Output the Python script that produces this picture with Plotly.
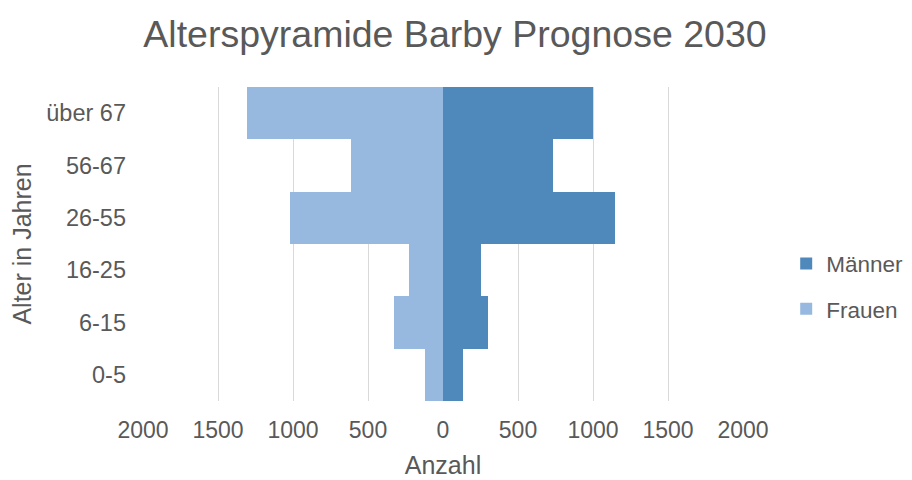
import plotly.graph_objects as go

age_groups = ["0-5", "6-15", "16-25", "26-55", "56-67", "über 67"]
maenner = [133, 303, 250, 1147, 730, 1000]
frauen = [122, 325, 229, 1018, 615, 1309]
tick_vals = [-2000, -1500, -1000, -500, 0, 500, 1000, 1500, 2000]
tick_text = ["2000", "1500", "1000", "500", "0", "500", "1000", "1500", "2000"]

FONT = "Arial"
GREY = "#595959"

fig = go.Figure()
fig.add_trace(go.Bar(
    y=age_groups, x=maenner, orientation="h", name="Männer",
    marker=dict(color="#4F89BC", line=dict(width=0)), legendgroup="m",
))
fig.add_trace(go.Bar(
    y=age_groups, x=[-v for v in frauen], orientation="h", name="Frauen",
    marker=dict(color="#98B9DF", line=dict(width=0)), legendgroup="f",
))

fig.update_layout(
    width=930, height=480,
    margin=dict(l=135, r=195, t=79, b=87),
    paper_bgcolor="white", plot_bgcolor="white",
    barmode="overlay", bargap=0,
    font=dict(family=FONT, color=GREY, size=23),
    title=dict(text="Alterspyramide Barby Prognose 2030", x=447 / 930, xanchor="center",
               y=1 - 26 / 480, yref="container", yanchor="middle",
               font=dict(size=37.5, color=GREY, family=FONT)),
    xaxis=dict(range=[-2000, 2000], tickvals=tick_vals, ticktext=tick_text,
               showgrid=True, gridcolor="#D9D9D9", gridwidth=1, zeroline=False,
               showline=False, ticks="", ticklabelstandoff=13, automargin=False,
               tickfont=dict(size=23, color=GREY, family=FONT),
               title=dict(text="Anzahl", font=dict(size=25, color=GREY, family=FONT), standoff=14)),
    yaxis=dict(categoryorder="array", categoryarray=age_groups,
               showgrid=False, zeroline=False, showline=False, ticks="",
               ticklabelstandoff=16, automargin=False,
               tickfont=dict(size=23.5, color=GREY, family=FONT),
               title=dict(text="Alter in Jahren", font=dict(size=25, color=GREY, family=FONT), standoff=10)),
    legend=dict(x=1.072, xanchor="left", y=0.365, yanchor="middle",
                font=dict(size=22.5, color=GREY, family=FONT), tracegroupgap=13,
                traceorder="grouped", bgcolor="rgba(0,0,0,0)"),
    showlegend=True,
)

fig.write_html("out.html")
